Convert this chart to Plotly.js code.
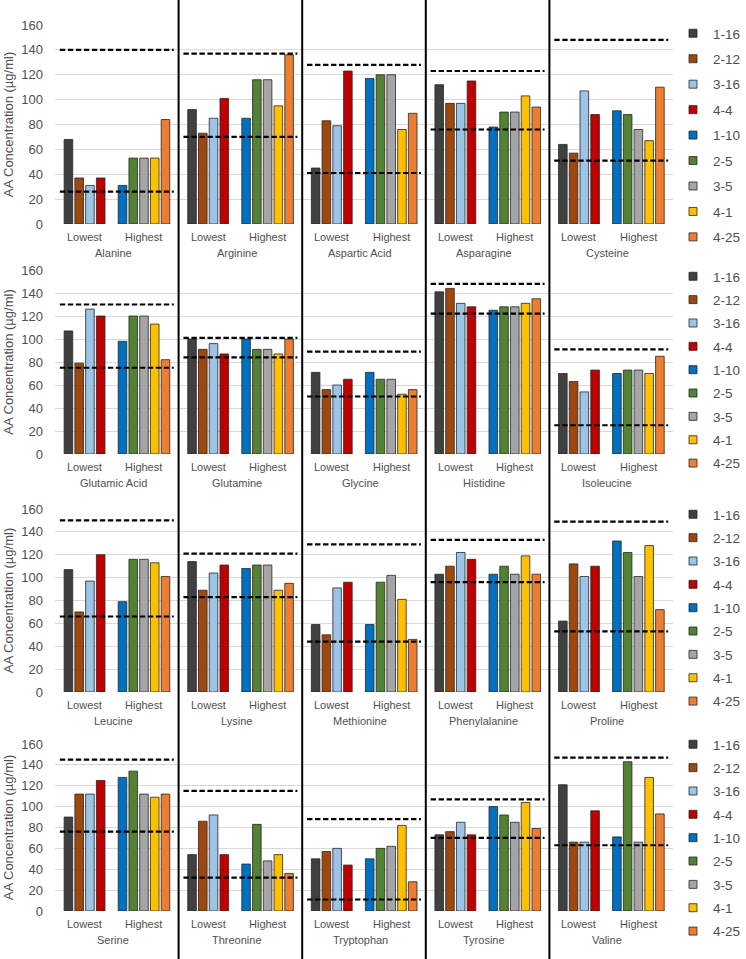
<!DOCTYPE html>
<html>
<head>
<meta charset="utf-8">
<script src="https://cdn.plot.ly/plotly-3.0.1.min.js"></script>
<style>
  html, body { margin: 0; padding: 0; background: #fff; }
  #chart { width: 746px; height: 959px; }
</style>
</head>
<body>
<div id="chart"></div>
<script>
// Amino acids, 5 per row of panels
const aminoAcids = [
  'Alanine', 'Arginine', 'Aspartic Acid', 'Asparagine', 'Cysteine',
  'Glutamic Acid', 'Glutamine', 'Glycine', 'Histidine', 'Isoleucine',
  'Leucine', 'Lysine', 'Methionine', 'Phenylalanine', 'Proline',
  'Serine', 'Threonine', 'Tryptophan', 'Tyrosine', 'Valine',
];

const groupLabels = ['Lowest', 'Highest'];
const lowestSeries = ['1-16', '2-12', '3-16', '4-4'];
const highestSeries = ['1-10', '2-5', '3-5', '4-1', '4-25'];

// Concentrations (µg/ml), one value per amino acid in the order above
const conc_1_16 = [68, 92, 45, 112, 64, 107, 100, 71, 141, 70, 107, 114, 59, 103, 62, 90, 54, 50, 73, 121];
const conc_2_12 = [37, 73, 83, 97, 57, 79, 91, 56, 144, 63, 70, 89, 50, 110, 112, 112, 86, 57, 76, 66];
const conc_3_16 = [31, 85, 79, 97, 107, 126, 96, 60, 131, 54, 97, 104, 91, 122, 101, 112, 92, 60, 85, 66];
const conc_4_4 = [37, 101, 123, 115, 88, 120, 87, 65, 128, 73, 120, 111, 96, 116, 110, 125, 54, 44, 73, 96];
const conc_1_10 = [31, 85, 117, 78, 91, 98, 100, 71, 125, 70, 79, 108, 59, 103, 132, 128, 45, 50, 100, 71];
const conc_2_5 = [53, 116, 120, 90, 88, 120, 91, 65, 128, 73, 116, 111, 96, 110, 122, 134, 83, 60, 92, 143];
const conc_3_5 = [53, 116, 120, 90, 76, 120, 91, 65, 128, 73, 116, 111, 102, 103, 101, 112, 48, 62, 85, 66];
const conc_4_1 = [53, 95, 76, 103, 67, 113, 87, 52, 131, 70, 113, 89, 81, 119, 128, 109, 54, 82, 104, 128];
const conc_4_25 = [84, 136, 89, 94, 110, 82, 100, 56, 135, 85, 101, 95, 46, 103, 72, 112, 36, 28, 79, 93];

// Reference range (dashed lines)
const refUpper = [140, 137, 128, 123, 148, 130, 101, 89, 148, 91, 150, 121, 129, 133, 149, 145, 115, 88, 107, 147];
const refLower = [26, 70, 41, 76, 51, 75, 84, 50, 122, 25, 66, 83, 44, 96, 53, 76, 32, 11, 70, 63];

const yTicks = [0, 20, 40, 60, 80, 100, 120, 140, 160];

const seriesNames = [...lowestSeries, ...highestSeries];
const seriesValues = [conc_1_16, conc_2_12, conc_3_16, conc_4_4, conc_1_10, conc_2_5, conc_3_5, conc_4_1, conc_4_25];
const SERIES_COLORS = ['#404040', '#9E480E', '#9DC3E6', '#C00000', '#0070C0', '#548235', '#A5A5A5', '#FFC000', '#ED7D31'];

// Layout geometry (x in bar-slot units)
const H = 959;
const PANEL = 11.5;
const PER_ROW = 5;
const BAR_W = 0.8;
const SLOT0 = [1.25, 6.28];
const ROW_PX = [[25, 224], [270, 454], [509, 692], [744, 911]];
const LEGEND_TOP = [33, 276, 514, 744];
const LEGEND_GAP = [4.9, 2.8, 2.8, 2.8];
const FONT = 'Liberation Sans, Arial, sans-serif';
const TXT = '#505050';

const sfx = (r) => (r === 0 ? '' : String(r + 1));

const traces = [];
const annotations = [];
const layout = {
  width: 746,
  height: H,
  margin: { l: 55, r: 65, t: 0, b: 0, pad: 0 },
  paper_bgcolor: '#fff',
  plot_bgcolor: 'rgba(0,0,0,0)',
  font: { family: FONT, color: TXT, size: 13 },
  barmode: 'overlay',
  showlegend: true,
  shapes: [],
  annotations,
};

ROW_PX.forEach((px, r) => {
  const xa = 'x' + sfx(r);
  const ya = 'y' + sfx(r);
  const dom = [1 - px[1] / H, 1 - px[0] / H];

  layout['xaxis' + sfx(r)] = {
    domain: [0, 1], range: [0, PANEL * PER_ROW], anchor: ya,
    showgrid: false, zeroline: false, showticklabels: false, ticks: '', fixedrange: true,
  };
  layout['yaxis' + sfx(r)] = {
    domain: dom, range: [0, 160], anchor: xa,
    tickvals: yTicks, ticks: '', ticklabelstandoff: 11,
    gridcolor: '#D9D9D9', gridwidth: 1, zeroline: false, showline: false,
    tickfont: { size: 13, color: TXT },
    title: { text: 'AA Concentration (µg/ml)', font: { size: 13, color: TXT }, standoff: 4 },
    automargin: false, fixedrange: true,
  };

  // bars
  seriesNames.forEach((name, s) => {
    const grp = s < lowestSeries.length ? 0 : 1;
    const slot = grp === 0 ? s : s - lowestSeries.length;
    const xs = [], ys = [];
    for (let p = 0; p < PER_ROW; p++) {
      xs.push(p * PANEL + SLOT0[grp] + slot);
      ys.push(seriesValues[s][r * PER_ROW + p]);
    }
    traces.push({
      type: 'bar', x: xs, y: ys, xaxis: xa, yaxis: ya, width: BAR_W,
      marker: { color: SERIES_COLORS[s], line: { color: '#262626', width: 0.8 } },
      showlegend: false, name,
      hovertemplate: name + ': %{y}<extra></extra>',
    });
    // legend entry
    traces.push({
      type: 'scatter', mode: 'markers', x: [null], y: [null], xaxis: xa, yaxis: ya,
      name, legend: 'legend' + sfx(r), legendgroup: 'r' + r + 's' + s,
      marker: { symbol: 'square', size: 8, color: SERIES_COLORS[s], line: { color: '#262626', width: 0.8 } },
      hoverinfo: 'skip',
    });
  });

  // dashed reference lines
  [refUpper, refLower].forEach((ref) => {
    const xs = [], ys = [];
    for (let p = 0; p < PER_ROW; p++) {
      const v = ref[r * PER_ROW + p];
      xs.push(p * PANEL + 0.45, (p + 1) * PANEL - 0.45, null);
      ys.push(v, v, null);
    }
    traces.push({
      type: 'scatter', mode: 'lines', x: xs, y: ys, xaxis: xa, yaxis: ya,
      line: { color: '#000', width: 2.2, dash: '5.4px,2.6px' },
      showlegend: false, hoverinfo: 'skip',
    });
  });

  // category labels
  for (let p = 0; p < PER_ROW; p++) {
    const y1 = 1 - (px[1] + 13) / H;
    const y2 = 1 - (px[1] + 29) / H;
    const lbl = { xref: xa, yref: 'paper', yanchor: 'middle', xanchor: 'center', showarrow: false, font: { size: 11, color: TXT } };
    annotations.push(
      { ...lbl, x: p * PANEL + SLOT0[0] + 1.5, y: y1, text: groupLabels[0] },
      { ...lbl, x: p * PANEL + SLOT0[1] + 2, y: y1, text: groupLabels[1] },
      { ...lbl, x: p * PANEL + 5.4, y: y2, text: aminoAcids[r * PER_ROW + p] },
    );
  }

  layout['legend' + sfx(r)] = {
    x: (681 - 55) / (746 - 120), xanchor: 'left',
    y: 1 - (LEGEND_TOP[r] - 15) / H, yanchor: 'top',
    bgcolor: 'rgba(0,0,0,0)', borderwidth: 0,
    font: { size: 13.5, color: TXT, family: FONT },
    traceorder: 'grouped', tracegroupgap: LEGEND_GAP[r],
    itemclick: false, itemdoubleclick: false,
  };
});

// thick separators between panel columns
for (let p = 1; p < PER_ROW; p++) {
  layout.shapes.push({
    type: 'line', xref: 'x', yref: 'paper', x0: p * PANEL, x1: p * PANEL, y0: 0, y1: 1,
    line: { color: '#000', width: 2 },
  });
}

Plotly.newPlot('chart', traces, layout, { displayModeBar: false, staticPlot: true });
</script>
</body>
</html>
